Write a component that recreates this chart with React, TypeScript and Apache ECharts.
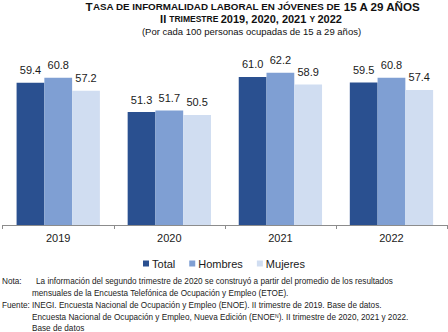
import React, { useEffect, useRef } from "react";
import * as echarts from "echarts";

const years = ["2019", "2020", "2021", "2022"];
const total = [59.4, 51.3, 61.0, 59.5];
const hombres = [60.8, 51.7, 62.2, 60.8];
const mujeres = [57.2, 50.5, 58.9, 57.4];
const seriesNames = ["Total", "Hombres", "Mujeres"];
const colors = ["#2A5090", "#7F9FD3", "#D0DDF1"];

const noteLines = [
  { label: "Nota:", text: "La información del segundo trimestre de 2020 se construyó a partir del promedio de los resultados", tx: 36 },
  { label: "", text: "mensuales de la Encuesta Telefónica de Ocupación y Empleo (ETOE).", tx: 32 },
  { label: "", text: "Fuente: INEGI. Encuesta Nacional de Ocupación y Empleo (ENOE). II trimestre de 2019. Base de datos.", tx: 2 },
  { label: "", text: "Encuesta Nacional de Ocupación y Empleo, Nueva Edición (ENOE{sup|N}). II trimestre de 2020, 2021 y 2022.", tx: 32 },
  { label: "", text: "Base de datos", tx: 32 },
];

const FONT = "Liberation Sans, Arial, sans-serif";

export default function App() {
  const ref = useRef<HTMLDivElement>(null);
  useEffect(() => {
    if (!ref.current) return;
    const chart = echarts.init(ref.current, null, { renderer: "svg" });
    const textColor = "#1a1a1a";
    const noteGraphics: any[] = [];
    const noteY = [282, 294, 306, 318, 329];
    noteLines.forEach((n, i) => {
      if (n.label) {
        noteGraphics.push({
          type: "text",
          left: 2,
          top: noteY[i] - 5,
          style: { text: n.label, font: `8.2px ${FONT}`, fill: "#222" },
        });
      }
      noteGraphics.push({
        type: "text",
        left: n.tx,
        top: noteY[i] - 5,
        style: {
          text: n.text,
          font: `8.2px ${FONT}`,
          fill: "#222",
          rich: { sup: { fontSize: 5, fontFamily: FONT, padding: [0, 0, 4, 0], fill: "#222" } },
        },
      });
    });

    const mkSeries = (name: string, data: number[], color: string) => ({
      name,
      type: "bar",
      data,
      itemStyle: { color },
      barGap: "0%",
      barCategoryGap: "25%",
      label: {
        show: true,
        position: "top",
        distance: 7,
        formatter: (p: any) => p.value.toFixed(1),
        fontSize: 11,
        fontFamily: FONT,
        color: textColor,
      },
    });

    chart.setOption({
      animation: false,
      grid: { left: 2.7, right: 1, top: 44.5, bottom: 107 },
      legend: {
        data: seriesNames,
        bottom: 58,
        left: "center",
        icon: "rect",
        itemWidth: 6,
        itemHeight: 6,
        itemGap: 14,
        textStyle: { fontSize: 11, fontFamily: FONT, color: textColor, padding: [0, 0, 0, -2] },
      },
      xAxis: {
        type: "category",
        data: years,
        axisLine: { lineStyle: { color: "#8c8c8c", width: 1 } },
        axisTick: { show: true, length: 4, lineStyle: { color: "#8c8c8c" } },
        axisLabel: { fontSize: 11, fontFamily: FONT, color: textColor, margin: 7 },
      },
      yAxis: { type: "value", min: 20, max: 70, show: false, splitLine: { show: false } },
      series: [
        mkSeries(seriesNames[0], total, colors[0]),
        mkSeries(seriesNames[1], hombres, colors[1]),
        mkSeries(seriesNames[2], mujeres, colors[2]),
      ],
      graphic: [
        {
          type: "text",
          x: 253,
          y: 6,
          style: {
            text: "{c|T}{s|ASA DE INFORMALIDAD LABORAL EN JÓVENES DE }{c|15 A 29 AÑOS}",
            align: "center",
            verticalAlign: "middle",
            fill: "#111",
            rich: {
              c: { fontSize: 11.6, fontWeight: "bold", fontFamily: FONT, fill: "#111" },
              s: { fontSize: 9.8, fontWeight: "bold", fontFamily: FONT, fill: "#111" },
            },
          },
        },
        {
          type: "text",
          x: 251,
          y: 19,
          style: {
            text: "{c|II }{s|TRIMESTRE }{c|2019, 2020, 2021 }{s|Y }{c|2022}",
            align: "center",
            verticalAlign: "middle",
            fill: "#111",
            rich: {
              c: { fontSize: 11, fontWeight: "bold", fontFamily: FONT, fill: "#111" },
              s: { fontSize: 8.5, fontWeight: "bold", fontFamily: FONT, fill: "#111" },
            },
          },
        },
        {
          type: "text",
          x: 251.5,
          y: 31.5,
          style: {
            text: "(Por cada 100 personas ocupadas de 15 a 29 años)",
            align: "center",
            verticalAlign: "middle",
            font: `9.5px ${FONT}`,
            fill: "#111",
          },
        },
        ...noteGraphics,
      ],
    });
    return () => chart.dispose();
  }, []);
  return (
    <div
      ref={ref}
      style={{ position: "fixed", left: 0, top: 0, width: 448, height: 332, background: "#fff" }}
    />
  );
}
